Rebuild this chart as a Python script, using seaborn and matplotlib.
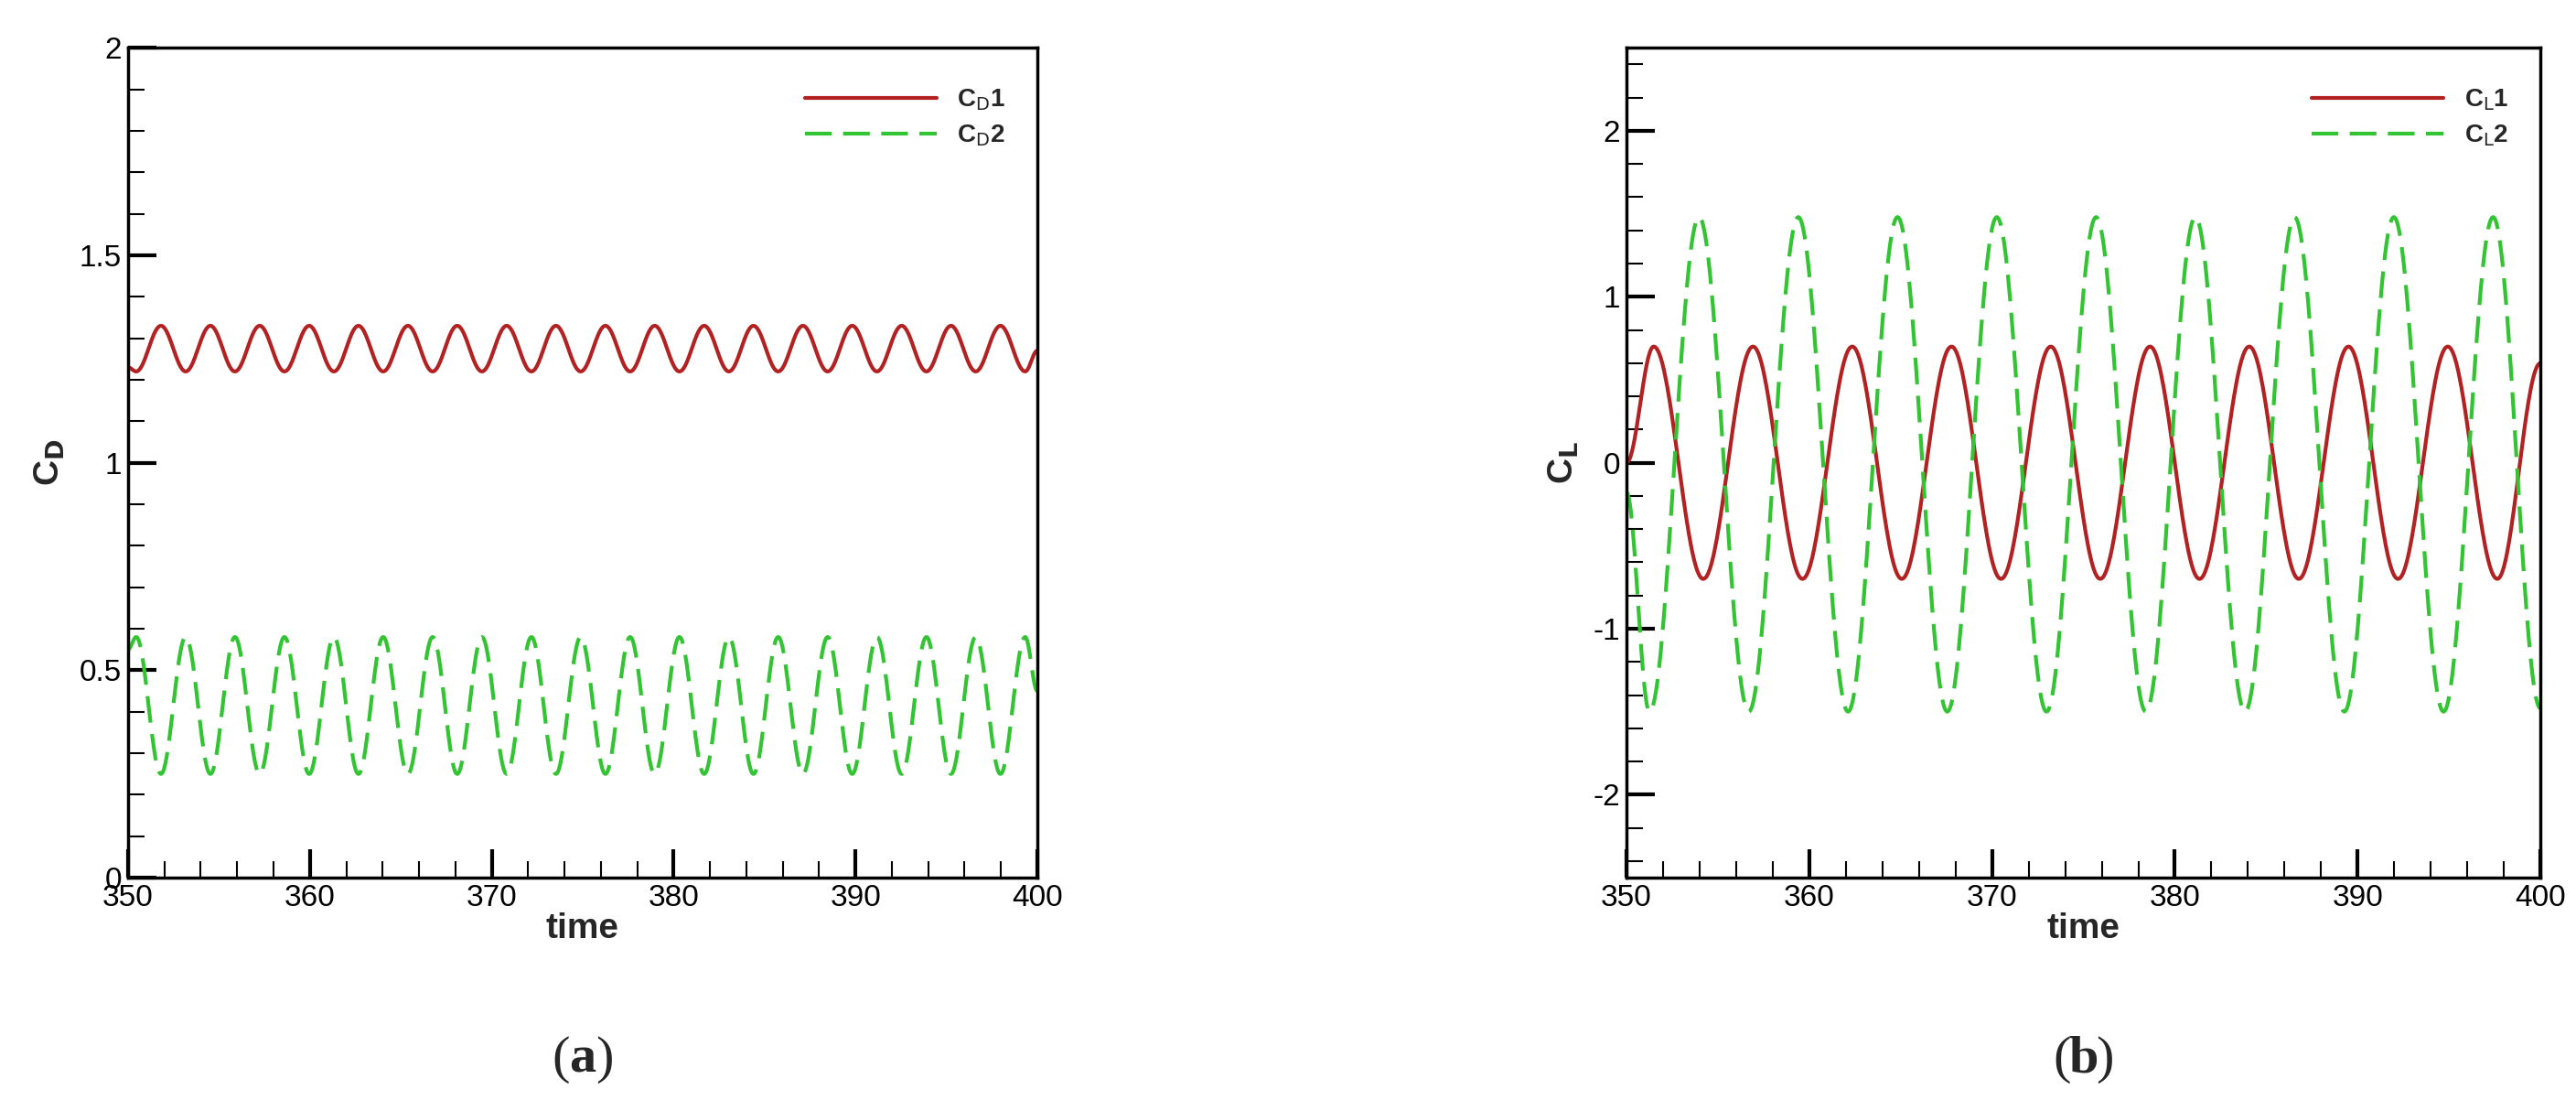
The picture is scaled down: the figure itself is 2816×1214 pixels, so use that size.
import numpy as np
import pandas as pd
import matplotlib
matplotlib.use("Agg")
import matplotlib.pyplot as plt
import seaborn as sns

# ---- data: extrema (time, value) ----
cd_t = [350, 350.45, 351.81, 353.17, 354.53, 355.88, 357.24, 358.60, 359.96, 361.32,
        362.67, 364.03, 365.39, 366.75, 368.10, 369.46, 370.82, 372.18, 373.53, 374.89,
        376.25, 377.61, 378.96, 380.32, 381.68, 383.04, 384.39, 385.75, 387.11, 388.47,
        389.82, 391.18, 392.54, 393.90, 395.25, 396.61, 397.97, 399.33, 400]
cd1_v = [1.23] + [1.22, 1.33] * 18 + [1.22, 1.27]
cd2_v = [0.55] + [0.58, 0.25] * 18 + [0.58, 0.45]

cl1_t = [350, 351.49, 354.20, 356.92, 359.63, 362.35, 365.06, 367.78, 370.49, 373.21,
         375.92, 378.64, 381.35, 384.07, 386.78, 389.50, 392.21, 394.93, 397.64, 400]
cl1_v = [0.0] + [0.70, -0.70] * 9 + [0.60]
cl2_t = [350, 351.26, 353.97, 356.69, 359.40, 362.12, 364.83, 367.55, 370.26, 372.98,
         375.69, 378.41, 381.12, 383.84, 386.55, 389.27, 391.98, 394.70, 397.41, 400]
cl2_v = [-0.18] + [-1.50, 1.48] * 9 + [-1.48]


def smooth(tk, vk, n=40):
    ts, vs = [], []
    for i in range(len(tk) - 1):
        s = np.linspace(0, 1, n, endpoint=False)
        ts.append(tk[i] + (tk[i + 1] - tk[i]) * s)
        vs.append(vk[i] + (vk[i + 1] - vk[i]) * (1 - np.cos(np.pi * s)) / 2)
    ts.append([tk[-1]]); vs.append([vk[-1]])
    return np.concatenate(ts), np.concatenate(vs)


sns.set_theme(style="white")
plt.rcParams['font.family'] = ['Liberation Sans', 'DejaVu Sans']

RED = "#b22222"
GREEN = "#33c433"

fig = plt.figure(figsize=(28.16, 12.14), dpi=100)
axL = fig.add_axes([0.0497, 0.210, 0.353, 0.747])
axR = fig.add_axes([0.6314, 0.210, 0.3548, 0.747])


def draw(ax, t1, v1, t2, v2, n1, n2):
    x1, y1 = smooth(t1, v1)
    x2, y2 = smooth(t2, v2)
    df = pd.concat([pd.DataFrame({"time": x1, "val": y1, "s": n1}),
                    pd.DataFrame({"time": x2, "val": y2, "s": n2})])
    sns.lineplot(data=df[df.s == n1], x="time", y="val", ax=ax, color=RED,
                 lw=3, label=n1, sort=False)
    sns.lineplot(data=df[df.s == n2], x="time", y="val", ax=ax, color=GREEN,
                 lw=3, label=n2, sort=False, dashes=False)
    ax.lines[1].set_dashes([7, 3])
    ax.set_xlim(350, 400)
    ax.set_xticks(range(350, 401, 10))
    ax.set_xticks(np.arange(350, 401, 2), minor=True)
    for sp in ax.spines.values():
        sp.set_color("black"); sp.set_linewidth(2.5)
    ax.tick_params(which="both", direction="in", colors="black", labelsize=24,
                   top=False, right=False, bottom=True, left=True)
    ax.tick_params(which="major", length=22, width=3, pad=5)
    ax.tick_params(which="minor", length=13, width=1.5)
    ax.set_xlabel("time", fontsize=28, fontweight="bold", labelpad=0)
    leg = ax.legend(loc="upper right", frameon=False, fontsize=20,
                    handlelength=5.2, bbox_to_anchor=(0.99, 0.98),
                    handletextpad=0.8, labelspacing=0.4)
    for t in leg.get_texts():
        t.set_fontweight("bold")


draw(axL, cd_t, cd1_v, cd_t, cd2_v, r"C$_{\mathrm{D}}$1", r"C$_{\mathrm{D}}$2")
axL.set_ylim(0, 2)
axL.set_yticks([0, 0.5, 1, 1.5, 2])
axL.set_yticklabels(["0", "0.5", "1", "1.5", "2"])
axL.set_yticks(np.arange(0, 2.01, 0.1), minor=True)
axL.set_ylabel(r"C$_{\mathbf{D}}$", fontsize=28, fontweight="bold", labelpad=10)

draw(axR, cl1_t, cl1_v, cl2_t, cl2_v, r"C$_{\mathrm{L}}$1", r"C$_{\mathrm{L}}$2")
axR.set_ylim(-2.5, 2.5)
axR.set_yticks([-2, -1, 0, 1, 2])
axR.set_yticklabels(["-2", "-1", "0", "1", "2"])
axR.set_yticks(np.arange(-2.4, 2.41, 0.2), minor=True)
axR.set_ylabel(r"C$_{\mathbf{L}}$", fontsize=28, fontweight="bold", labelpad=10)

W = 2816.0
ylab = 1 - 1158 / 1214
for ax, lab in [(axL, "a"), (axR, "b")]:
    pos = ax.get_position()
    cx = (pos.x0 + pos.x1) / 2
    off = 14 / W
    fig.text(cx - off, ylab, "(", ha="right", va="center", fontsize=42,
             family="Liberation Serif")
    fig.text(cx, ylab, lab, ha="center", va="center", fontsize=42,
             family="Liberation Serif", fontweight="bold")
    fig.text(cx + off, ylab, ")", ha="left", va="center", fontsize=42,
             family="Liberation Serif")

fig.savefig("out.png", dpi=100)
